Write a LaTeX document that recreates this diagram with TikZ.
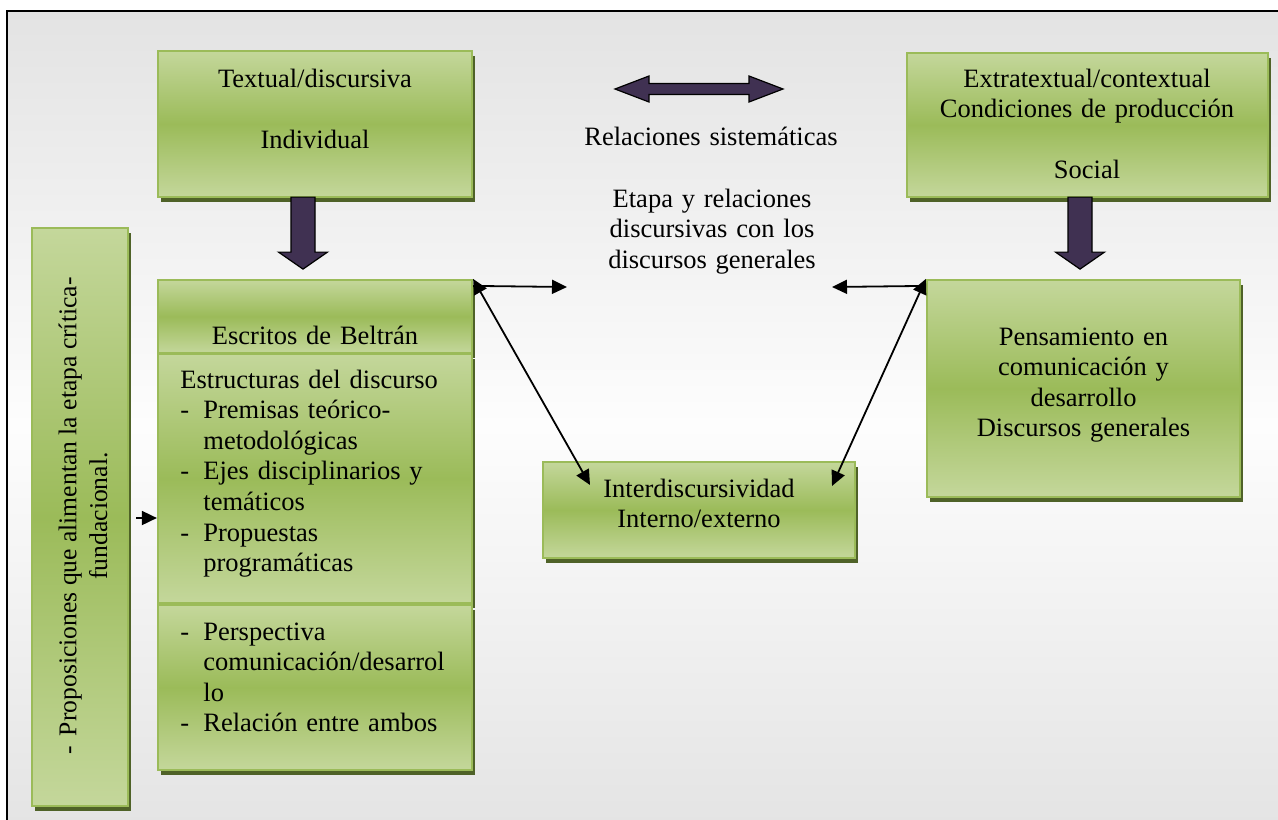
\documentclass[tikz,border=0pt]{standalone}
\usepackage{fontspec}
\setmainfont{Liberation Serif}
\usetikzlibrary{fit,shadows,calc,arrows.meta}
\definecolor{gtop}{RGB}{196,215,155}
\definecolor{gmid}{RGB}{155,187,89}
\definecolor{gborder}{RGB}{155,187,89}
\definecolor{gshadow}{RGB}{79,98,40}
\definecolor{purp}{RGB}{64,49,82}
\definecolor{bgedge}{RGB}{227,227,227}
\definecolor{bgmid}{RGB}{253,253,253}
\begin{document}
\begin{tikzpicture}[x=0.5pt,y=-0.5pt,
  every node/.style={font=\fontsize{13.25pt}{15.3pt}\selectfont},
  gbox/.style={draw=gborder,line width=1.1pt,top color=gtop,bottom color=gtop,middle color=gmid,inner sep=0pt,
    drop shadow={shadow xshift=1.5pt,shadow yshift=-2.5pt,fill=gshadow,opacity=1}},
  txt/.style={inner sep=0pt,align=center},
  ltxt/.style={inner sep=0pt,align=left,text width=150pt},
  arr/.style={line width=0.9pt,-{Triangle[length=7.5pt,width=7pt]}},
  darr/.style={line width=0.9pt,{Triangle[length=7.5pt,width=7pt]}-{Triangle[length=7.5pt,width=7pt]}},
  blockarrow/.style={draw=black,line width=0.6pt,fill=purp,line join=miter}
]
\useasboundingbox (0,0) rectangle (1278,819);
\clip (0,0) rectangle (1278,819);
\fill[white] (0,0) rectangle (1278,819);
\shade[top color=bgedge,bottom color=bgedge,middle color=bgmid] (7,11) rectangle (1300,840);
\draw[line width=1pt] (7,840) -- (7,11) -- (1300,11);

% boxes
\node[gbox,fit={(158,51) (472,197)}] (t1) {};
\node[gbox,fit={(907,53) (1268,197)}] (ext) {};
\node[gbox,fit={(32,228) (128,806)}] (prop) {};
\node[gbox,fit={(158,280) (472,353)}] (esc1) {};
\node[gbox,fit={(158,354) (472,603)}] (esc2) {};
\node[gbox,fit={(158,605) (472,770)}] (esc3) {};
\node[gbox,fit={(927,280) (1240,497)}] (pens) {};
\node[gbox,fit={(543,462) (855,558)}] (inter) {};

% block arrows
\begin{scope}[shift={($(t1.south)+(-12,0)$)}]
\draw[blockarrow] (-12,-1) -- (12,-1) -- (12,54) -- (24.5,54) -- (0,71) -- (-24.5,54) -- (-12,54) -- cycle;
\end{scope}
\begin{scope}[shift={($(ext.south)+(-7.5,0)$)}]
\draw[blockarrow] (-12,-1) -- (12,-1) -- (12,54) -- (24.5,54) -- (0,71) -- (-24.5,54) -- (-12,54) -- cycle;
\end{scope}
\coordinate (dbl) at (699,89);
\begin{scope}[shift={(dbl)}]
\draw[blockarrow] (-84,0) -- (-50,-13) -- (-50,-5.5) -- (50,-5.5) -- (50,-13) -- (84,0) -- (50,13) -- (50,5.5) -- (-50,5.5) -- (-50,13) -- cycle;
\end{scope}

% texts
\node[txt,text width=157pt,anchor=base] (t1txt) at (315,87) {Textual/discursiva\\[15.3pt]Individual};
\node[txt,text width=180pt,anchor=base] (exttxt) at (1087,87) {Extratextual/contextual\\Condiciones de producción\\[15.3pt]Social};
\node[txt,text width=160pt,anchor=base] (reltxt) at (711,145) {Relaciones sistemáticas};
\node[txt,text width=160pt,anchor=base] (etapa) at (712,207) {Etapa y relaciones\\discursivas con los\\discursos generales};
\node[txt,text width=157pt,anchor=base] (esc1txt) at (315,344) {Escritos de Beltrán};
\node[ltxt,anchor=base west] (esc2txt) at (180,388) {Estructuras del discurso\\
\makebox[11.5pt][l]{-}Premisas teórico-\\
\hspace*{11.5pt}metodológicas\\
\makebox[11.5pt][l]{-}Ejes disciplinarios y\\
\hspace*{11.5pt}temáticos\\
\makebox[11.5pt][l]{-}Propuestas\\
\hspace*{11.5pt}programáticas};
\node[ltxt,anchor=base west] (esc3txt) at (180,640) {\makebox[11.5pt][l]{-}Perspectiva\\
\hspace*{11.5pt}comunicación/desarrol\\
\hspace*{11.5pt}lo\\
\makebox[11.5pt][l]{-}Relación entre ambos};
\node[txt,text width=156pt,anchor=base] (penstxt) at (1083.5,345) {Pensamiento en\\comunicación y\\desarrollo\\Discursos generales};
\node[txt,text width=156pt,anchor=base] (intertxt) at (699,497) {Interdiscursividad\\Interno/externo};
\node[txt,rotate=90,font=\fontsize{12.8pt}{15.3pt}\selectfont] (proptxt) at (83,516) {-\hspace{5pt}Proposiciones que alimentan la etapa crítica-\\fundacional.};

% connectors
\coordinate (relL) at (567,287);
\coordinate (relR) at (832,287);
\coordinate (dl) at (590,485);
\coordinate (dr) at (832,486);
\coordinate (pa) at ($(prop.east)+(7,1)$);
\draw[arr] ($(esc1.north east)+(0,7)$) -- (relL);
\draw[arr] ($(pens.north west)+(0,7)$) -- (relR);
\draw[darr] (esc1.north east) -- (dl);
\draw[darr] (pens.north west) -- (dr);
\draw[arr] (pa) -- (pa -| esc2.west);
\end{tikzpicture}
\end{document}
